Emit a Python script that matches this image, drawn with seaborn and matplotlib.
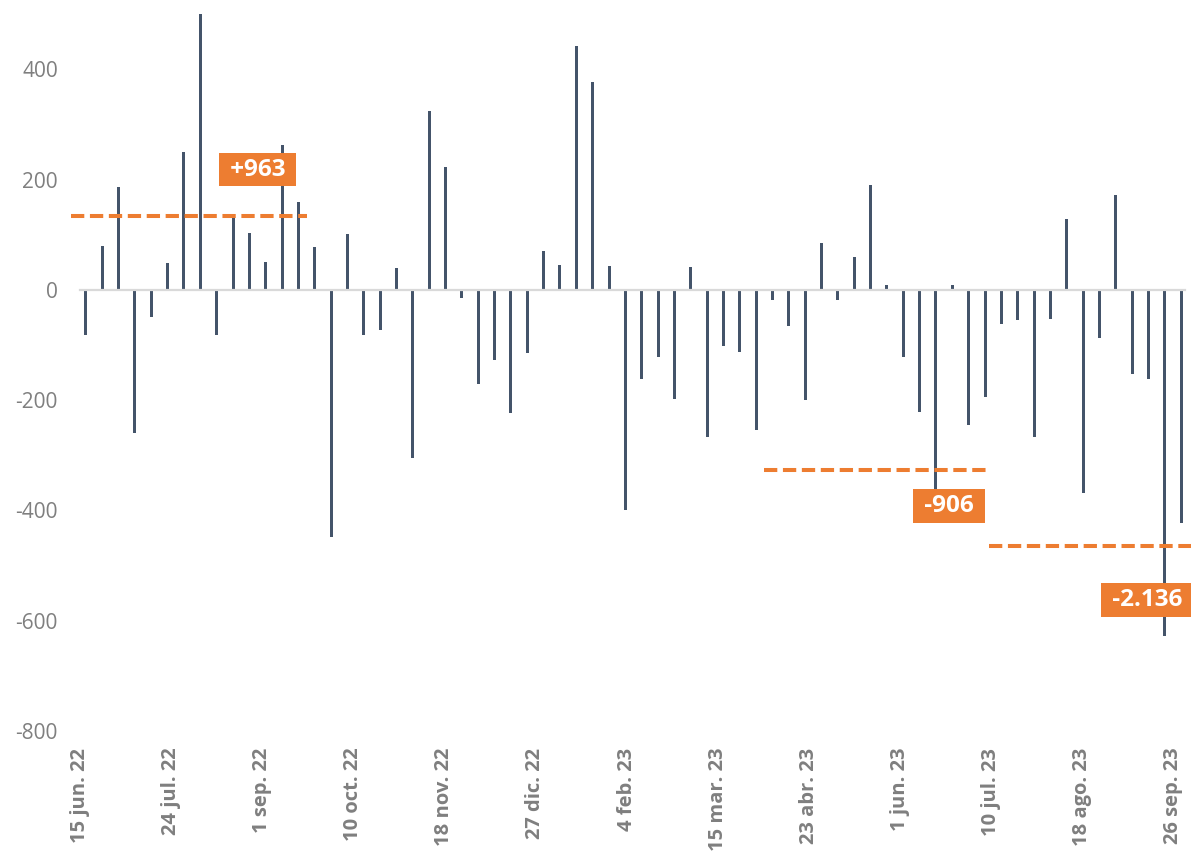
import pandas as pd
import numpy as np
import matplotlib
matplotlib.use('Agg')
import matplotlib.pyplot as plt
import matplotlib.dates as mdates
import seaborn as sns

# weekly values (Fridays, 17 jun 22 .. 29 sep 23)
week_start = '2022-06-17'
values = [-82, 79, 187, -260, -50, 48, 250, 500, -82, 137,
          103, 50, 262, 159, 77, -448, 101, -82, -72, 40,
          -305, 325, 222, -14, -170, -127, -223, -115, 71, 45,
          442, 376, 43, -400, -161, -121, -198, 41, -266, -101,
          -113, -255, -18, -65, -199, 85, -19, 60, 190, 9,
          -122, -222, -370, 8, -245, -194, -62, -55, -266, -53,
          128, -368, -87, 172, -153, -162, -627, -422]

tick_dates = ['2022-06-15', '2022-07-24', '2022-09-01', '2022-10-10', '2022-11-18',
              '2022-12-27', '2023-02-04', '2023-03-15', '2023-04-23', '2023-06-01',
              '2023-07-10', '2023-08-18', '2023-09-26']
tick_labels = ['15 jun. 22', '24 jul. 22', '1 sep. 22', '10 oct. 22', '18 nov. 22',
               '27 dic. 22', '4 feb. 23', '15 mar. 23', '23 abr. 23', '1 jun. 23',
               '10 jul. 23', '18 ago. 23', '26 sep. 23']

y_ticks = [-800, -600, -400, -200, 0, 200, 400]

# dashed reference levels and their labels
ref_start = ['2022-06-11', '2023-04-04', '2023-07-09']
ref_end = ['2022-09-20', '2023-07-10', '2023-10-05']
ref_level = [133, -326, -464]
box_text = ['+963', '-906', '-2.136']
box_date = ['2022-08-30', '2023-06-22', '2023-09-15']
box_y = [218, -392, -563]

BAR = '#44546A'
ORANGE = '#ED7D31'
GREY = '#7F7F7F'
AXIS = '#D9D9D9'

sns.set_style('white')
plt.rcParams['font.family'] = ['Open Sans', 'DejaVu Sans']
plt.rcParams['axes.unicode_minus'] = False

dates = pd.date_range(week_start, periods=len(values), freq='7D')
df = pd.DataFrame({'x': mdates.date2num(dates) + 0.5, 'valor': values})

fig = plt.figure(figsize=(11.91, 8.52), dpi=100)
ax = fig.add_axes([0.0672, 0.142, 0.9275, 0.8415])

# thin weekly bars on a real date scale
sns.barplot(data=df, x='x', y='valor', native_scale=True, orient='x',
            color=BAR, saturation=1, width=0.183, errorbar=None,
            linewidth=0, ax=ax)
for p in ax.patches:
    p.set_snap(True)

x0 = mdates.date2num(pd.Timestamp('2022-06-15'))
x1 = mdates.date2num(pd.Timestamp('2023-10-01'))
ax.set_xlim(x0, x1)
ax.set_ylim(-800, 500)
ax.set_xlabel('')
ax.set_ylabel('')

# y axis
ax.set_yticks(y_ticks, labels=[str(v) for v in y_ticks])
ax.tick_params(axis='y', length=0, pad=16, labelsize=15, labelcolor=GREY)

# horizontal axis line crossing at zero with small ticks
for s in ['top', 'right', 'left']:
    ax.spines[s].set_visible(False)
ax.spines['bottom'].set_position(('data', 0))
ax.spines['bottom'].set_color(AXIS)
ax.spines['bottom'].set_linewidth(1.6)
tick_nums = mdates.date2num(pd.to_datetime(tick_dates))
ax.set_xticks(tick_nums)
ax.tick_params(axis='x', direction='out', length=6, width=1.4, color=AXIS,
               labelbottom=False)

# date labels at the bottom of the plot area
sec = ax.secondary_xaxis(0.0)
sec.set_xticks(tick_nums, labels=tick_labels, rotation=90, fontweight='bold',
               fontsize=14.5, color=GREY)
sec.tick_params(length=0, pad=12)
sec.spines['bottom'].set_visible(False)

# dashed levels
for a, b, lvl in zip(ref_start, ref_end, ref_level):
    xa = mdates.date2num(pd.Timestamp(a))
    xb = mdates.date2num(pd.Timestamp(b))
    ax.plot([xa, xb], [lvl, lvl], color=ORANGE, lw=2.9,
            linestyle=(0, (3.3, 1.4)), clip_on=False, zorder=4)

for txt, d, yv in zip(box_text, box_date, box_y):
    ax.text(mdates.date2num(pd.Timestamp(d)), yv, ' ' + txt + ' ',
            ha='center', va='center', color='white', fontsize=17.5,
            fontweight='bold', zorder=6,
            bbox=dict(boxstyle='square,pad=0.2', fc=ORANGE, ec='none'))

plt.savefig('out.png', dpi=100)
